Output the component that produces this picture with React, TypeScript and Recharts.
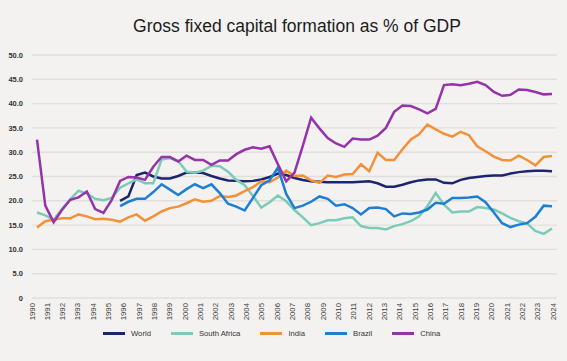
import React from 'react';
import { LineChart, Line, XAxis, YAxis, CartesianGrid, Legend } from 'recharts';

// x labels printed under the plot
const YEARS = [
  1990, 1991, 1992, 1993, 1994, 1995, 1996, 1997, 1998, 1999, 2000, 2001, 2002, 2003, 2004, 2005, 2006,
  2007, 2008, 2009, 2010, 2011, 2012, 2013, 2014, 2015, 2016, 2017, 2018, 2019, 2020, 2021, 2022, 2023, 2024,
];

const Y_TICKS = [0, 5, 10, 15, 20, 25, 30, 35, 40, 45, 50];

// series values (63 points each)
const WORLD = [
  null, null, null, null, null, null, null, null, null, null,
  20.0, 20.9, 25.3, 25.8, 25.0, 24.6, 24.6, 25.1, 25.8, 25.8, 25.7, 25.1, 24.6, 24.2, 24.1, 24.0, 24.1, 24.4,
  24.9, 25.6, 25.3, 24.7, 24.3, 24.0, 23.9, 23.8, 23.8, 23.8, 23.8, 23.9, 24.0, 23.6, 22.9, 22.9, 23.3, 23.8,
  24.2, 24.4, 24.4, 23.7, 23.6, 24.3, 24.7, 24.9, 25.1, 25.2, 25.2, 25.6, 25.9, 26.1, 26.2, 26.2, 26.1,
];

const SOUTH_AFRICA = [
  17.6, 17.0, 16.1, 18.3, 20.3, 22.1, 21.5, 20.4, 20.1, 20.6, 22.7, 23.6, 24.4, 23.6, 23.6, 28.5, 28.8, 28.2,
  26.0, 25.8, 26.2, 27.2, 27.1, 26.0, 24.3, 23.2, 21.0, 18.6, 19.7, 21.1, 19.9, 18.1, 16.6, 15.0, 15.4, 16.0,
  16.0, 16.4, 16.6, 14.8, 14.4, 14.4, 14.1, 14.8, 15.2, 15.8, 16.8, 18.9, 21.6, 19.2, 17.6, 17.8, 17.8, 18.7,
  18.5, 18.2, 17.4, 16.5, 15.8, 15.3, 13.8, 13.2, 14.3,
];

const INDIA = [
  14.5, 15.8, 16.1, 16.4, 16.4, 17.2, 16.8, 16.2, 16.3, 16.1, 15.7, 16.6, 17.2, 15.9, 16.8, 17.8, 18.5, 18.8,
  19.5, 20.3, 19.8, 20.0, 21.0, 20.8, 21.1, 22.0, 22.8, 24.0, 23.8, 24.8, 26.2, 25.1, 25.2, 24.2, 23.7, 25.2,
  24.9, 25.4, 25.5, 27.5, 26.1, 29.9, 28.4, 28.4, 30.6, 32.6, 33.7, 35.7, 34.7, 33.8, 33.2, 34.2, 33.5, 31.2,
  30.2, 29.1, 28.4, 28.3, 29.3, 28.4, 27.3, 29.0, 29.2,
];

const BRAZIL = [
  null, null, null, null, null, null, null, null, null, null,
  18.9, 19.8, 20.4, 20.4, 21.8, 23.4, 22.3, 21.2, 22.4, 23.4, 22.6, 23.4, 21.6, 19.4, 18.8, 18.0, 20.6, 23.2,
  24.2, 26.8, 21.4, 18.5, 19.0, 19.8, 20.9, 20.4, 19.0, 19.3, 18.5, 17.2, 18.5, 18.6, 18.3, 16.8, 17.4, 17.3,
  17.6, 18.2, 19.6, 19.4, 20.6, 20.6, 20.7, 20.9, 19.7, 17.6, 15.4, 14.6, 15.1, 15.4, 16.7, 19.0, 18.9,
];

const CHINA = [
  32.6, 19.0, 15.6, 18.1, 20.2, 20.7, 21.9, 18.3, 17.5, 20.2, 24.1, 24.9, 24.8, 24.3, 27.0, 29.0, 29.0, 28.1,
  29.3, 28.4, 28.4, 27.4, 28.3, 28.3, 29.6, 30.5, 31.0, 30.7, 31.2, 27.5, 24.0, 25.8, 31.3, 37.1, 34.9, 32.9,
  31.8, 31.1, 32.8, 32.6, 32.6, 33.4, 35.0, 38.3, 39.6, 39.5, 38.8, 38.0, 38.9, 43.8, 44.0, 43.8, 44.1, 44.5,
  43.8, 42.4, 41.6, 41.8, 42.9, 42.8, 42.4, 41.9, 42.0,
];

const SERIES = [
  { key: 'world', name: 'World', color: '#1d2570', values: WORLD },
  { key: 'sa', name: 'South Africa', color: '#7ccbb8', values: SOUTH_AFRICA },
  { key: 'india', name: 'India', color: '#f39139', values: INDIA },
  { key: 'brazil', name: 'Brazil', color: '#1a7fd5', values: BRAZIL },
  { key: 'china', name: 'China', color: '#9632aa', values: CHINA },
];

const rows = CHINA.map((_, i) => {
  const row: Record<string, number | null> = { i };
  SERIES.forEach(s => {
    row[s.key] = s.values[i];
  });
  return row;
});

// the label axis needs some data of its own to get a scale
const yearRows = YEARS.map(year => ({ year }));

const FONT = '"Liberation Sans", Arial, sans-serif';

const YearTick = (props: any) => {
  const { x, y, payload } = props;
  const ty = y - 3;
  return (
    <text
      x={x}
      y={ty}
      transform={`rotate(-90, ${x}, ${ty})`}
      textAnchor="end"
      dominantBaseline="central"
      fontSize={7.8}
      fontFamily={FONT}
      fill="#3a3a3a"
    >
      {payload.value}
    </text>
  );
};

const LegendRow = () => (
  <div style={{ display: 'flex', alignItems: 'center', height: 14, fontFamily: FONT, fontSize: 7.7, color: '#333' }}>
    {SERIES.map(s => (
      <div key={s.key} style={{ display: 'flex', alignItems: 'center', marginRight: 20 }}>
        <span style={{ display: 'inline-block', width: 22, height: 3, background: s.color, marginRight: 6 }} />
        <span>{s.name}</span>
      </div>
    ))}
  </div>
);

export default function App() {
  return (
    <div style={{ position: 'absolute', left: 0, top: 0, width: 567, height: 361, background: '#f3f2f0', overflow: 'hidden' }}>
      <div
        style={{
          position: 'absolute',
          left: 0,
          top: 17.5,
          width: 594,
          textAlign: 'center',
          fontFamily: FONT,
          fontSize: 17.5,
          lineHeight: '17.5px',
          color: '#1c1c1c',
        }}
      >
        Gross fixed capital formation as % of GDP
      </div>
      <LineChart width={567} height={361} data={rows} margin={{ top: 55, right: 10, bottom: 33, left: 0 }}>
        <CartesianGrid vertical={false} stroke="#e1dfdb" strokeWidth={1.4} />
        <XAxis xAxisId="pts" dataKey="i" type="number" domain={[0, 62]} padding={{ left: 5, right: 5 }} height={0} hide />
        <XAxis
          xAxisId="years"
          dataKey="year"
          type="number"
          domain={[1990, 2024]}
          ticks={YEARS}
          interval={0}
          padding={{ left: 0, right: 4 }}
          axisLine={false}
          tickLine={false}
          height={30}
          tick={<YearTick />}
          allowDataOverflow
        />
        <YAxis
          domain={[0, 50]}
          ticks={Y_TICKS}
          interval={0}
          width={32}
          axisLine={false}
          tickLine={false}
          tickMargin={3}
          tickFormatter={(v: number) => (v === 0 ? '0' : v.toFixed(1))}
          tick={{ fontSize: 7.5, fill: '#333', fontFamily: FONT, fontWeight: 600 }}
        />
        <Line
          xAxisId="years"
          data={yearRows}
          dataKey="none"
          stroke="none"
          dot={false}
          activeDot={false}
          legendType="none"
          isAnimationActive={false}
        />
        {SERIES.map(s => (
          <Line
            key={s.key}
            xAxisId="pts"
            dataKey={s.key}
            name={s.name}
            stroke={s.color}
            strokeWidth={2.5}
            dot={false}
            activeDot={false}
            isAnimationActive={false}
          />
        ))}
        <Legend
          verticalAlign="middle"
          layout="horizontal"
          content={<LegendRow />}
          wrapperStyle={{ top: 326, left: 103, width: 'auto', height: 14 }}
        />
      </LineChart>
    </div>
  );
}
